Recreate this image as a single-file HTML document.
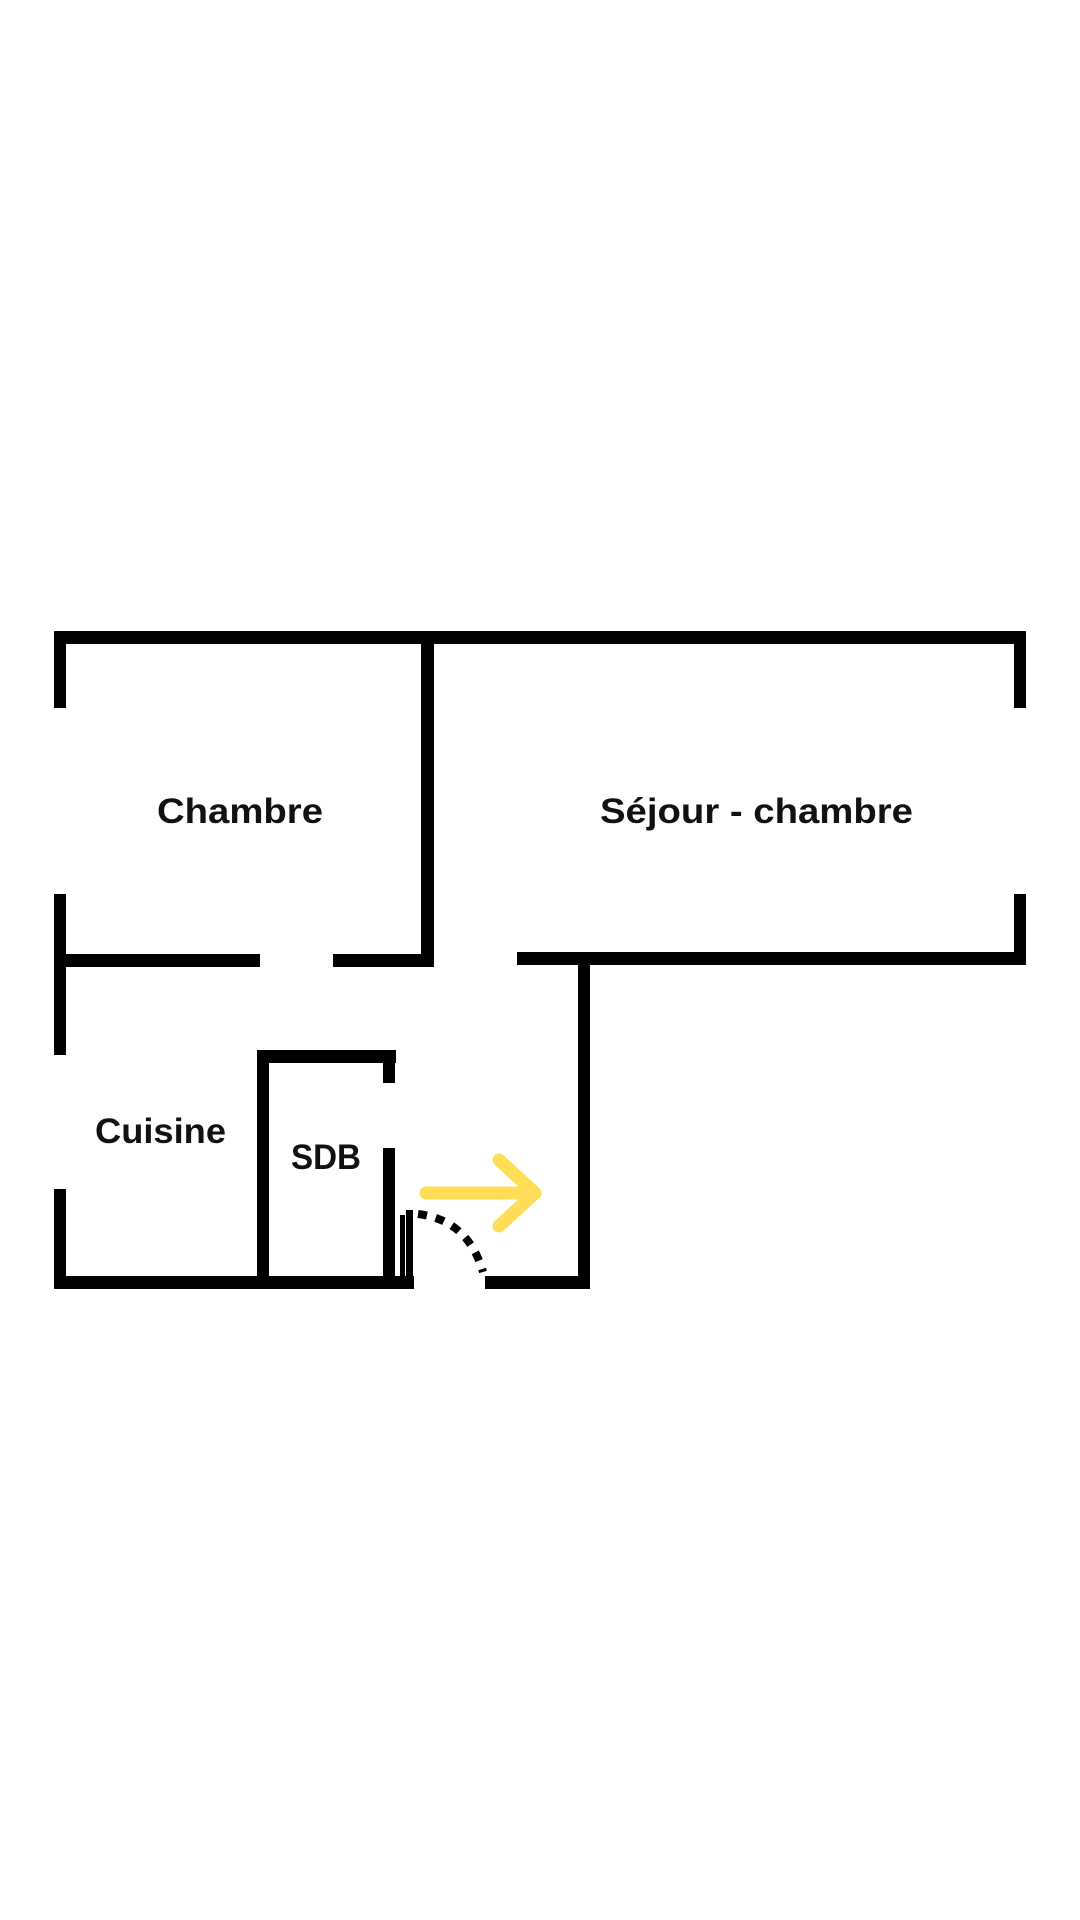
<!DOCTYPE html>
<html><head><meta charset="utf-8"><style>html,body{margin:0;padding:0;background:#fff}svg{display:block}</style></head>
<body>
<svg width="1080" height="1920" viewBox="0 0 1080 1920" xmlns="http://www.w3.org/2000/svg">
<rect width="1080" height="1920" fill="#fff"/>
<g fill="#000">
<rect x="54" y="631" width="972" height="13"/>
<rect x="54" y="631" width="12" height="77"/>
<rect x="54" y="894" width="12" height="161"/>
<rect x="54" y="1189" width="12" height="100"/>
<rect x="54" y="1276" width="360" height="13"/>
<rect x="485" y="1276" width="105" height="13"/>
<rect x="421" y="631" width="13" height="336"/>
<rect x="54" y="954" width="206" height="13"/>
<rect x="333" y="954" width="101" height="13"/>
<rect x="1014" y="631" width="12" height="77"/>
<rect x="1014" y="894" width="12" height="71"/>
<rect x="517" y="952" width="509" height="13"/>
<rect x="578" y="952" width="12" height="337"/>
<rect x="257" y="1050" width="139" height="13"/>
<rect x="257" y="1050" width="12" height="239"/>
<rect x="383" y="1050" width="12" height="33"/>
<rect x="383" y="1148" width="12" height="141"/>
<rect x="400" y="1215" width="5" height="74"/>
<rect x="406" y="1210" width="7" height="79"/>
</g>
<path d="M418 1214 Q468 1220 483 1272" fill="none" stroke="#000" stroke-width="8" stroke-dasharray="9 9"/>
<g stroke="#FFDD57" stroke-width="13" stroke-linecap="round" stroke-linejoin="round" fill="none">
<line x1="426" y1="1193" x2="535" y2="1193"/>
<polyline points="499,1160 535,1193 499,1226"/>
</g>
<g font-family="Liberation Sans, sans-serif" font-weight="bold" font-size="35" fill="#111">
<text x="157" y="823" textLength="166" lengthAdjust="spacingAndGlyphs">Chambre</text>
<text x="600" y="823" textLength="313" lengthAdjust="spacingAndGlyphs">Séjour - chambre</text>
<text x="95" y="1143" textLength="131" lengthAdjust="spacingAndGlyphs">Cuisine</text>
<text x="291" y="1169" textLength="70" lengthAdjust="spacingAndGlyphs">SDB</text>
</g>
</svg>
</body></html>
